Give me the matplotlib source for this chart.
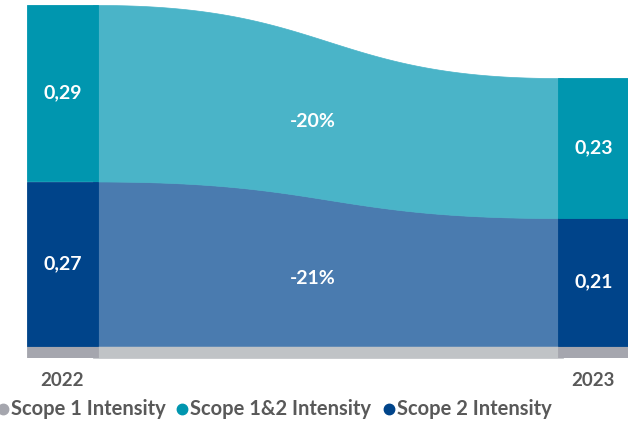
import matplotlib.pyplot as plt
import numpy as np

plt.rcParams['font.family'] = ['Lato', 'DejaVu Sans']

years = ['2022', '2023']
scope1 = [0.02, 0.02]
scope2 = [0.27, 0.21]
scope12 = [0.29, 0.23]
scope2_labels = ['0,27', '0,21']
scope12_labels = ['0,29', '0,23']
change_labels = ['-20%', '-21%']  # scope 1&2, scope 2

bar_cols = {'s1': '#a5a6ae', 's2': '#00448a', 's12': '#0096af'}
flow_cols = {'s1': '#c0c3c6', 's2': '#4a7baf', 's12': '#4ab4c8'}

W, H = 637, 422
fig = plt.figure(figsize=(W / 100, H / 100), dpi=100)
ax = fig.add_axes([27 / W, 64 / H, 601 / W, 353 / H])
ax.set_xlim(0, 6.01)
ax.set_ylim(0, 0.58)
ax.axis('off')

bw = 0.71
xs = [0, 5.31]

def layers(i):
    b1 = scope1[i]
    b2 = b1 + scope2[i]
    b3 = b2 + scope12[i]
    return [(0, b1), (b1, b2), (b2, b3)]

keys = ['s1', 's2', 's12']
L0, L1 = layers(0), layers(1)

# flows: cubic bezier with flat ends, like a sankey link
u = np.linspace(0, 1, 400)
bx = 1.5 * u * (1 - u) ** 2 + 1.5 * u ** 2 * (1 - u) + u ** 3
s = 3 * u ** 2 * (1 - u) + u ** 3
x0, x1 = bw, xs[1]
fx = x0 + bx * (x1 - x0)
fx = np.concatenate([[x0 - 0.05], fx, [x1 + 0.05]])
s = np.concatenate([[0], s, [1]])
for k, (a, b) in zip(keys, zip(L0, L1)):
    lo = a[0] + (b[0] - a[0]) * s
    hi = a[1] + (b[1] - a[1]) * s
    ax.fill_between(fx, lo, hi, color=flow_cols[k], lw=0.5, edgecolor=flow_cols[k])

# bars
for i, x in enumerate(xs):
    for k, (lo, hi) in zip(keys, layers(i)):
        ax.bar(x, hi - lo, bottom=lo, width=bw, align='edge', color=bar_cols[k],
               lw=0.6, edgecolor=bar_cols[k])
    lay = layers(i)
    ax.text(x + bw / 2, (lay[1][0] + lay[1][1]) / 2, scope2_labels[i], color='white',
            fontsize=14, fontweight='bold', ha='center', va='center')
    ax.text(x + bw / 2, (lay[2][0] + lay[2][1]) / 2, scope12_labels[i], color='white',
            fontsize=14, fontweight='bold', ha='center', va='center')

# change labels in flows
ax.text(2.86, 0.388, change_labels[0], color='white', fontsize=14, fontweight='bold',
        ha='center', va='center')
ax.text(2.86, 0.131, change_labels[1], color='white', fontsize=14, fontweight='bold',
        ha='center', va='center')

# year labels
fig.text(62 / W, 1 - 380 / H, years[0], color='#595959', fontsize=13.5, fontweight='bold',
         ha='center', va='center')
fig.text(593 / W, 1 - 380 / H, years[1], color='#595959', fontsize=13.5, fontweight='bold',
         ha='center', va='center')

# legend
leg = [('Scope 1 Intensity', bar_cols['s1'], 3),
       ('Scope 1&2 Intensity', bar_cols['s12'], 182),
       ('Scope 2 Intensity', bar_cols['s2'], 389)]
ly = 1 - 409 / H
for name, c, px in leg:
    fig.add_artist(plt.Line2D([px / W], [ly], marker='o', markersize=7.5, color=c, lw=0))
    fig.text((px + 8) / W, ly, name, color='#595959', fontsize=14.5, fontweight='bold',
             ha='left', va='center')

fig.savefig('out.png', dpi=100)
